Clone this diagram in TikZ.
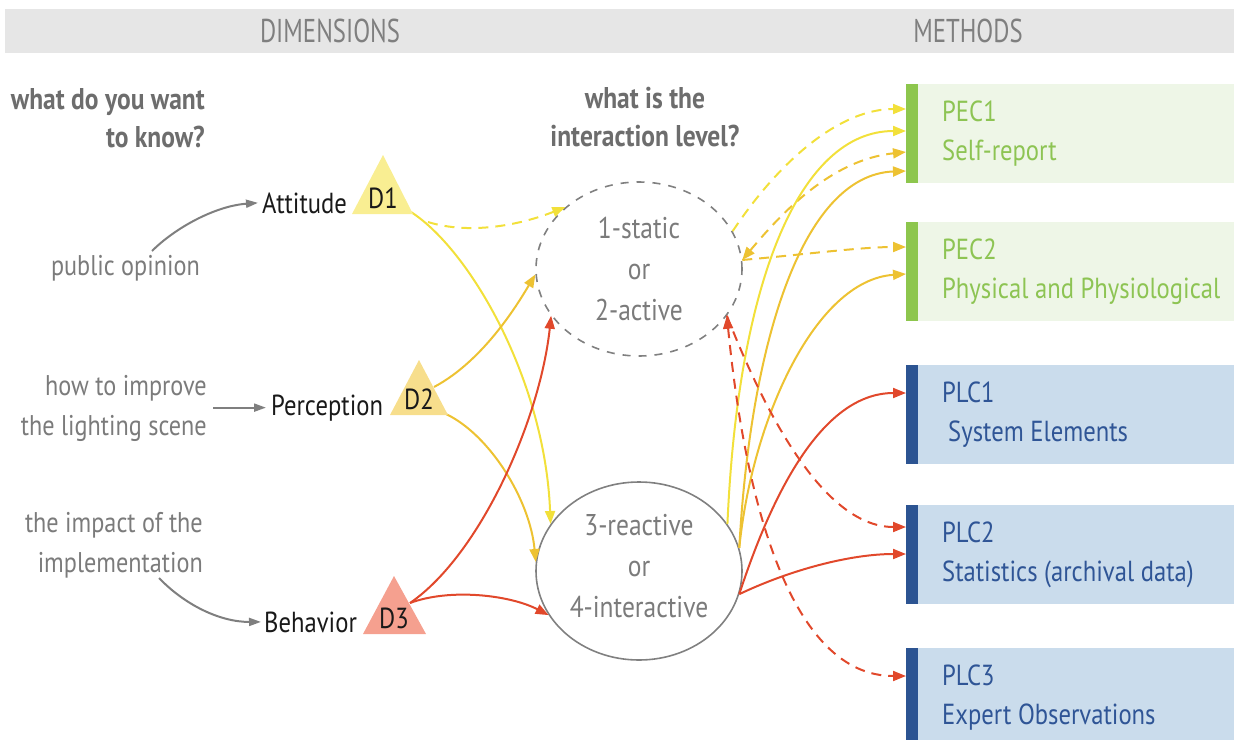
\documentclass[tikz,border=0pt]{standalone}
\usepackage{fontspec}
\setmainfont{PT Sans}[FakeStretch=0.85]
\newfontfamily\headfont{PT Sans}[FakeStretch=0.75]
\usetikzlibrary{arrows.meta,shapes.geometric,calc}

\definecolor{headbg}{HTML}{E6E6E6}
\definecolor{headtx}{HTML}{7F7F7F}
\definecolor{asktx}{HTML}{6D6D6D}
\definecolor{graytx}{HTML}{7B7B7B}
\definecolor{grayln}{HTML}{7F7F7F}
\definecolor{circln}{HTML}{808080}
\definecolor{yel}{HTML}{F2E03A}
\definecolor{gold}{HTML}{EDC232}
\definecolor{redln}{HTML}{E1482B}
\definecolor{d1fill}{HTML}{F9EE92}
\definecolor{d2fill}{HTML}{F7DE8C}
\definecolor{d3fill}{HTML}{F5A08F}
\definecolor{pecbar}{HTML}{8DC64D}
\definecolor{pecbg}{HTML}{EEF6E7}
\definecolor{pectx}{HTML}{8DC453}
\definecolor{plcbar}{HTML}{2C5492}
\definecolor{plcbg}{HTML}{CADCEC}
\definecolor{plctx}{HTML}{2F5596}

\tikzset{
  headtxt/.style={text=headtx, font=\headfont\fontsize{33}{36}\selectfont, inner sep=0pt},
  asktxt/.style={text=asktx, font=\bfseries\fontsize{30}{38}\selectfont, inner sep=0pt},
  lefttxt/.style={text=graytx, font=\fontsize{28.5}{40}\selectfont, inner sep=0pt},
  dimlabel/.style={text=black!90, font=\fontsize{29}{30}\selectfont, inner sep=0pt},
  dimtag/.style={text=black!90, font=\fontsize{29}{30}\selectfont, inner sep=0pt},
  circtxt/.style={text=graytx, font=\fontsize{30}{41}\selectfont, align=center, inner sep=0pt},
  level/.style={ellipse, draw=circln, line width=1.6pt, minimum width=206pt, inner sep=0pt},
  box/.style={rectangle, minimum width=330pt, minimum height=99pt, anchor=north west, inner sep=0pt},
  boxtxt/.style={font=\fontsize{29}{39}\selectfont, align=left, anchor=west, inner sep=0pt},
  link/.style={line width=2pt, -{Triangle[length=13pt,width=10pt]}},
  dlink/.style={link, dash pattern=on 10pt off 7pt},
  graylink/.style={grayln, line width=2pt, -{Triangle[length=12pt,width=8pt]}},
}

\begin{document}
\begin{tikzpicture}[x=1pt,y=-1pt]
\useasboundingbox (0,0) rectangle (1234,739);

% header band
\fill[headbg] (5,9) rectangle (1234,53);
\node[headtxt] (hdim) at (330,31) {DIMENSIONS};
\node[headtxt] (hmeth) at (968,31) {METHODS};

% questions
\node[asktxt, align=right, anchor=east] (askdim) at (205,118) {what do you want\\to know?};
\node[asktxt, align=center] (asklevel) at (645,117) {what is the\\interaction level?};

% what each dimension asks about
\node[lefttxt, anchor=east] (pubop) at (200,268) {public opinion};
\node[lefttxt, anchor=east, align=right] (improve) at (207,408) {how to improve\\the lighting scene};
\node[lefttxt, anchor=east, align=right] (impact) at (203,545) {the impact of the\\implementation};

% dimensions
\node[dimlabel, anchor=base west] (att) at (262,213) {Attitude};
\node[dimlabel, anchor=base west] (per) at (271,415) {Perception};
\node[dimlabel, anchor=base west] (beh) at (264,632) {Behavior};

\coordinate (pubopTail) at (152,251);
\coordinate (impactTail) at (159,578);
\draw[graylink] (pubopTail) .. controls (175,228) and (215,206) .. ([xshift=-4pt]att.west);
\draw[graylink] ([xshift=6pt]improve.east |- per.west) -- ([xshift=-5pt]per.west);
\draw[graylink] (impactTail) .. controls (185,605) and (220,622) .. ([xshift=-3pt]beh.west);

% interaction levels
\node[level, minimum height=174pt, dash pattern=on 8pt off 8pt] (c1) at (639,269) {};
\node[level, minimum height=178pt] (c2) at (639,571) {};
\node[circtxt] (c1t) at (639,269) {1-static\\or\\2-active};
\node[circtxt] (c2t) at (639,566) {3-reactive\\or\\4-interactive};

% methods
\node[box, fill=pecbg] (pec1) at (906,84) {};
\node[box, fill=pecbg] (pec2) at (906,222) {};
\node[box, fill=plcbg] (plc1) at (906,365) {};
\node[box, fill=plcbg] (plc2) at (906,505) {};
\node[box, fill=plcbg] (plc3) at (906,648) {};
\foreach \b in {pec1,pec2}
  \fill[pecbar] (\b.north west) rectangle ([xshift=12pt]\b.south west);
\foreach \b in {plc1,plc2,plc3}
  \fill[plcbar] (\b.north west) rectangle ([xshift=12pt]\b.south west);
\node[boxtxt, text=pectx] (pec1t) at ([xshift=36pt]pec1.west) {PEC1\\Self-report};
\node[boxtxt, text=pectx] (pec2t) at ([xshift=36pt]pec2.west) {PEC2\\Physical and Physiological};
\node[boxtxt, text=plctx] (plc1t) at ([xshift=36pt]plc1.west) {PLC1\\\hspace{6pt}System Elements};
\node[boxtxt, text=plctx] (plc2t) at ([xshift=36pt]plc2.west) {PLC2\\Statistics (archival data)};
\node[boxtxt, text=plctx] (plc3t) at ([xshift=36pt]plc3.west) {PLC3\\Expert Observations};

% entry points on the method bars
\coordinate (pec1a) at ([yshift=-25pt]pec1.north west);
\coordinate (pec1b) at ([yshift=-47pt]pec1.north west);
\coordinate (pec1c) at ([yshift=-68pt]pec1.north west);
\coordinate (pec1d) at ([yshift=-87pt]pec1.north west);
\coordinate (pec2a) at ([yshift=-25pt]pec2.north west);
\coordinate (pec2b) at ([yshift=-52pt]pec2.north west);
\coordinate (plc1a) at ([yshift=-28pt]plc1.north west);
\coordinate (plc2a) at ([yshift=-22pt]plc2.north west);
\coordinate (plc2b) at ([yshift=-49pt]plc2.north west);
\coordinate (plc3a) at ([yshift=-28pt]plc3.north west);

% dimension triangles: exit points
\coordinate (d1r) at (411,212);
\coordinate (d1d) at (428,222);
\coordinate (d2r) at (434,387);
\coordinate (d2b) at (446,414);
\coordinate (d3r) at (410,603);

% dimensions -> interaction levels
\draw[dlink, yel] (d1d) .. controls (470,235) and (520,225) .. (c1.140);
\draw[link, yel] (d1r) .. controls (470,250) and (545,380) .. (c2.152);
\draw[link, gold] (d2r) .. controls (485,360) and (520,300) .. (c1.183);
\draw[link, gold] (d2b) .. controls (490,435) and (530,500) .. (c2.175);
\draw[link, redln] (d3r) .. controls (480,555) and (540,420) .. (c1.208);
\draw[link, redln] (d3r) .. controls (450,588) and (510,595) .. (c2.206);

% interaction levels -> methods
\draw[dlink, yel] (c1.22) .. controls (780,160) and (840,109) .. (pec1a);
\draw[dlink, gold, {Triangle[length=13pt,width=10pt]}-{Triangle[length=13pt,width=10pt]}] (c1.5) .. controls (780,215) and (830,160) .. (pec1c);
\draw[dlink, gold] (c1.5) .. controls (800,255) and (860,247) .. (pec2a);
\draw[link, yel] (c2.28) .. controls (738,280) and (800,131) .. (pec1b);
\draw[link, gold] (c2.13) .. controls (750,350) and (800,175) .. (pec1d);
\draw[link, gold] (c2.13) .. controls (752,420) and (815,280) .. (pec2b);
\draw[dlink, redln] (c1.-28) .. controls (760,400) and (820,527) .. (plc2a);
\draw[dlink, redln, {Triangle[length=13pt,width=10pt]}-{Triangle[length=13pt,width=10pt]}] (c1.-28) .. controls (745,500) and (790,676) .. (plc3a);
\draw[link, redln] (c2.-13) .. controls (770,500) and (820,393) .. (plc1a);
\draw[link, redln] (c2.-13) .. controls (790,570) and (850,554) .. (plc2b);

% dimension triangles
\fill[d1fill] (352,214) -- (383,155) -- (413,214) -- cycle;
\fill[d2fill] (390,415) -- (419,360) -- (448,415) -- cycle;
\fill[d3fill] (363,634) -- (394,576) -- (426,634) -- cycle;
\node[dimtag, anchor=base] (d1) at (383,208) {D1};
\node[dimtag, anchor=base] (d2) at (419,409) {D2};
\node[dimtag, anchor=base] (d3) at (394,628) {D3};
\end{tikzpicture}
\end{document}
